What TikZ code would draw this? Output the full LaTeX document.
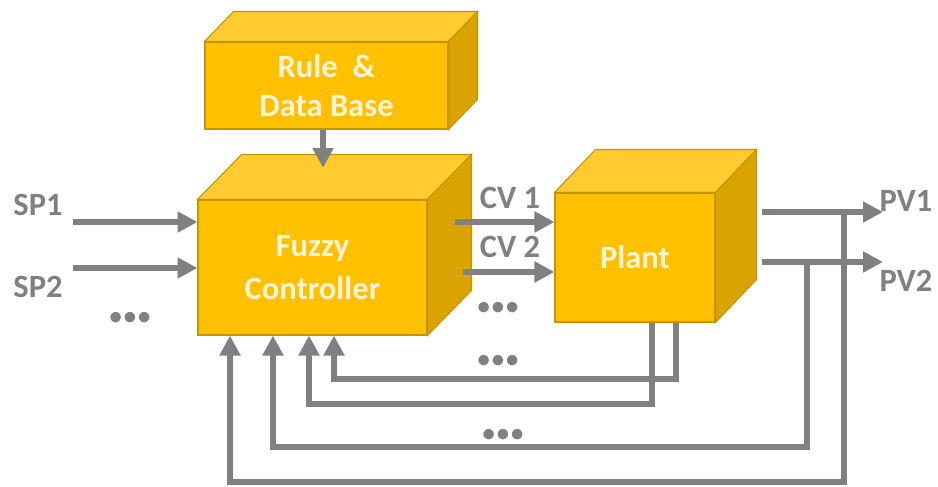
\documentclass[tikz,border=0pt]{standalone}
\usepackage{fontspec}
\setmainfont{Carlito}
\usetikzlibrary{arrows.meta}

\definecolor{boxfront}{HTML}{FFC000}
\definecolor{boxtop}{HTML}{FFCB2E}
\definecolor{boxside}{HTML}{D9A300}
\definecolor{boxedge}{HTML}{C49500}
\definecolor{boxtext}{HTML}{FFF4D6}
\definecolor{wire}{HTML}{808080}

\newcommand\threedots{{\fontsize{14}{14}\selectfont\textbullet\hspace{1.2pt}\textbullet\hspace{1.2pt}\textbullet}}

\tikzset{
	front/.style={draw=boxedge, fill=boxfront, line width=0.6pt, text=boxtext, align=center, inner sep=0pt, font=\fontsize{18.5}{22}\selectfont\bfseries},
	topface/.style={draw=boxedge, fill=boxtop, line width=0.6pt},
	sideface/.style={draw=boxedge, fill=boxside, line width=0.6pt},
	flow/.style={draw=wire, line width=0.12cm, -{Triangle[width=0.4cm,length=0.4cm]}},
	feed/.style={flow, line join=miter},
	tag/.style={text=wire, inner sep=0pt, font=\fontsize{18.5}{22}\selectfont\bfseries}
}

\begin{document}
\begin{tikzpicture}[x=0.02cm, y=-0.02cm]
	\newcommand\cubefaces[2]{
		\draw[topface] (#1.north west) -- ++(#2) -- ([shift={(#2)}]#1.north east) -- (#1.north east) -- cycle;
		\draw[sideface] (#1.north east) -- ([shift={(#2)}]#1.north east) -- ([shift={(#2)}]#1.south east) -- (#1.south east) -- cycle;
	};
	\useasboundingbox (0,0) rectangle (938,487);
	\node[front, minimum width=4.86cm, minimum height=1.74cm] (rule) at (326.5,85.5) {Rule \ \&\\Data Base};
	\cubefaces{rule}{29,-30}
	\node[front, minimum width=4.58cm, minimum height=2.7cm] (fuzzy) at (312.5,267.5) {Fuzzy\\[2pt]Controller};
	\cubefaces{fuzzy}{44,-45}
	\node[front, minimum width=3.2cm, minimum height=2.58cm] (plant) at (635,257.5) {Plant};
	\cubefaces{plant}{41,-43}

	\node[tag] (sp1) at (38,205) {SP1};
	\node[tag] (sp2) at (38,287) {SP2};
	\node[tag] (cv1) at (510,198) {CV 1};
	\node[tag] (cv2) at (510,247) {CV 2};
	\node[tag] (pv1) at (906,201) {PV1};
	\node[tag] (pv2) at (906,281) {PV2};
	\node[tag] (dotsin) at (130,318) {\threedots};
	\node[tag] (dotscv) at (498,308) {\threedots};
	\node[tag] (dotsfbi) at (498,361) {\threedots};
	\node[tag] (dotsfbo) at (503,435) {\threedots};

	\coordinate (kb) at (323,168);
	\coordinate (sp1in) at (73,222);
	\coordinate (sp2in) at (73,268);
	\coordinate (cv1out) at (455,222);
	\coordinate (cv2out) at (463,272);
	\coordinate (pv1out) at (762,212);
	\coordinate (pv2out) at (762,262);
	\coordinate (pv1end) at (883,212);
	\coordinate (pv2end) at (883,262);

	\draw[flow] (kb |- rule.south) -- (kb);
	\draw[flow] (sp1in) -- (sp1in -| fuzzy.west);
	\draw[flow] (sp2in) -- (sp2in -| fuzzy.west);
	\draw[flow] (cv1out) -- (cv1out -| plant.west);
	\draw[flow] (cv2out) -- (cv2out -| plant.west);

	\foreach \out/\back/\low in {676/334/379, 652/309/404} {
		\draw[feed] (\out,0 |- plant.south) -- (\out,\low) -- (\back,\low) -- (\back,0 |- fuzzy.south);
	}
	\foreach \out/\back/\low/\src in {807/273/447/pv2out, 844/230/482/pv1out} {
		\draw[feed] (\out,0 |- \src) -- (\out,\low) -- (\back,\low) -- (\back,0 |- fuzzy.south);
	}
	\draw[flow] (pv1out) -- (pv1end);
	\draw[flow] (pv2out) -- (pv2end);
\end{tikzpicture}
\end{document}
